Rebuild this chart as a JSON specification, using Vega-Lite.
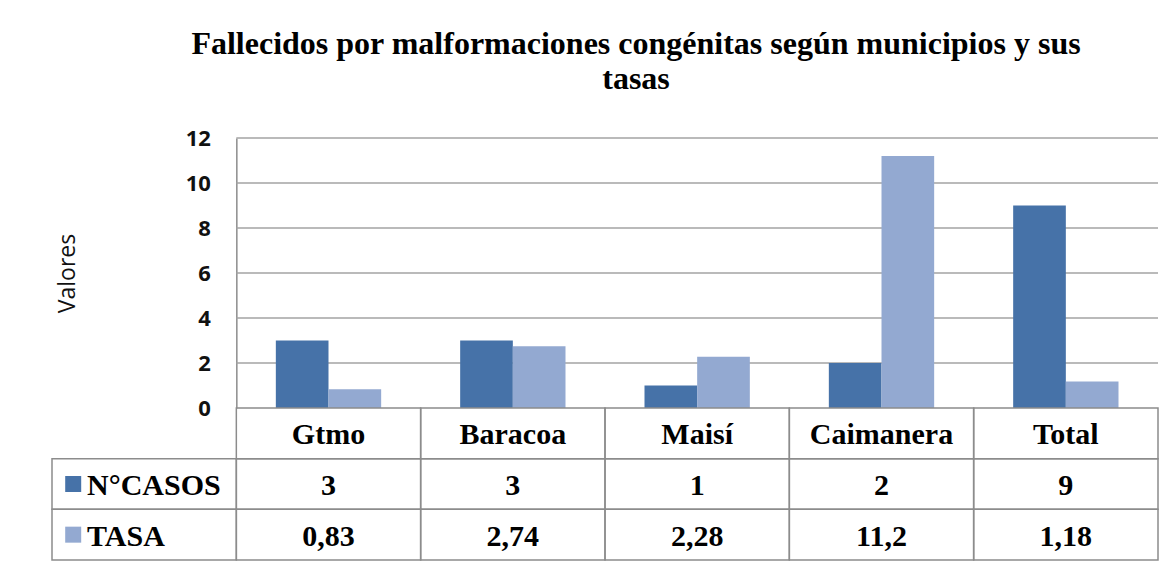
{
  "$schema": "https://vega.github.io/schema/vega-lite/v6.json",
  "width": 1106,
  "height": 423,
  "autosize": "none",
  "padding": {"left": 52, "top": 138, "right": 13, "bottom": 6},
  "background": "white",
  "config": {
    "view": {"stroke": null},
    "locale": {"number": {"decimal": ",", "thousands": ".", "grouping": [3], "currency": ["", " €"]}}
  },
  "title": {
    "text": ["Fallecidos por malformaciones congénitas según municipios y sus", "tasas"],
    "anchor": "middle",
    "font": "Liberation Serif",
    "fontSize": 32,
    "fontWeight": "bold",
    "color": "#000000",
    "lineHeight": 35,
    "offset": 31,
    "dx": 31
  },
  "data": {
    "values": [
      {"municipio": "Gtmo", "serie": "N°CASOS", "valor": 3},
      {"municipio": "Gtmo", "serie": "TASA", "valor": 0.83},
      {"municipio": "Baracoa", "serie": "N°CASOS", "valor": 3},
      {"municipio": "Baracoa", "serie": "TASA", "valor": 2.74},
      {"municipio": "Maisí", "serie": "N°CASOS", "valor": 1},
      {"municipio": "Maisí", "serie": "TASA", "valor": 2.28},
      {"municipio": "Caimanera", "serie": "N°CASOS", "valor": 2},
      {"municipio": "Caimanera", "serie": "TASA", "valor": 11.2},
      {"municipio": "Total", "serie": "N°CASOS", "valor": 9},
      {"municipio": "Total", "serie": "TASA", "valor": 1.18}
    ]
  },
  "resolve": {"scale": {"y": "independent"}, "axis": {"y": "independent"}},
  "layer": [
    {
      "layer": [
        {
          "data": {"values": [{"v": 2}, {"v": 4}, {"v": 6}, {"v": 8}, {"v": 10}, {"v": 12}]},
          "mark": {"type": "rule", "color": "#a3a3a3", "strokeWidth": 1.5},
          "encoding": {
            "x": {"datum": "Gtmo", "type": "nominal", "bandPosition": 0, "axis": null},
            "x2": {"value": "width"},
            "y": {
              "field": "v", "type": "quantitative", "title": "Valores",
              "scale": {"domain": [0, 12], "range": [270, 0]},
              "axis": {
                "orient": "left", "offset": -184.33, "grid": false, "ticks": false,
                "domain": true, "domainColor": "#8c8c8c", "domainWidth": 1.5,
                "values": [0, 2, 4, 6, 8, 10, 12],
                "labelFont": "Open Sans", "labelFontWeight": "bold", "labelFontSize": 22,
                "labelColor": "#111111", "labelPadding": 26, "labelFlush": false, "labelOverlap": false,
                "title": "Valores", "titleFont": "Open Sans", "titleFontSize": 23,
                "titleFontWeight": "normal", "titleColor": "#111111", "titlePadding": 106
              }
            }
          }
        },
        {
          "mark": {"type": "bar"},
          "encoding": {
            "x": {
              "field": "municipio", "type": "nominal", "axis": null,
              "scale": {"domain": ["Serie", "Gtmo", "Baracoa", "Maisí", "Caimanera", "Total"], "paddingInner": 0, "paddingOuter": 0}
            },
            "xOffset": {
              "field": "serie", "type": "nominal",
              "scale": {"domain": ["N°CASOS", "TASA"], "paddingInner": 0, "paddingOuter": 0.75}
            },
            "y": {"field": "valor", "type": "quantitative", "title": "Valores"},
            "color": {
              "field": "serie", "type": "nominal", "legend": null,
              "scale": {"domain": ["N°CASOS", "TASA"], "range": ["#4672a8", "#93a9d1"]}
            }
          }
        }
      ]
    },
    {
      "layer": [
        {
          "transform": [{"filter": "datum.serie === 'N°CASOS'"}],
          "mark": {"type": "rect", "fill": "white", "fillOpacity": 0, "stroke": "#8c8c8c", "strokeWidth": 1.5},
          "encoding": {
            "x": {"field": "municipio", "type": "nominal", "axis": null},
            "y": {
              "datum": "Municipio", "type": "nominal", "axis": null,
              "scale": {"domain": ["Municipio", "N°CASOS", "TASA"], "range": [270, 422], "paddingInner": 0, "paddingOuter": 0}
            }
          }
        },
        {
          "mark": {"type": "rect", "fill": "white", "fillOpacity": 0, "stroke": "#8c8c8c", "strokeWidth": 1.5},
          "encoding": {
            "x": {"field": "municipio", "type": "nominal", "axis": null},
            "y": {"field": "serie", "type": "nominal", "axis": null}
          }
        },
        {
          "transform": [{"filter": "datum.municipio === 'Gtmo'"}],
          "mark": {"type": "rect", "fill": "white", "fillOpacity": 0, "stroke": "#8c8c8c", "strokeWidth": 1.5},
          "encoding": {
            "x": {"datum": "Serie", "type": "nominal", "axis": null},
            "y": {"field": "serie", "type": "nominal", "axis": null}
          }
        },
        {
          "transform": [{"filter": "datum.serie === 'N°CASOS'"}],
          "mark": {"type": "text", "font": "Liberation Serif", "fontSize": 30, "fontWeight": "bold", "color": "#000000", "baseline": "middle", "dy": 2},
          "encoding": {
            "x": {"field": "municipio", "type": "nominal", "axis": null},
            "y": {"datum": "Municipio", "type": "nominal", "axis": null},
            "text": {"field": "municipio", "type": "nominal"}
          }
        },
        {
          "mark": {"type": "text", "font": "Liberation Serif", "fontSize": 30, "fontWeight": "bold", "color": "#000000", "baseline": "middle", "dy": 2},
          "encoding": {
            "x": {"field": "municipio", "type": "nominal", "axis": null},
            "y": {"field": "serie", "type": "nominal", "axis": null},
            "text": {"field": "valor", "type": "quantitative", "format": "~r"}
          }
        },
        {
          "transform": [{"filter": "datum.municipio === 'Gtmo'"}],
          "mark": {"type": "text", "font": "Liberation Serif", "fontSize": 30, "fontWeight": "bold", "color": "#000000", "baseline": "middle", "align": "left", "dy": 2},
          "encoding": {
            "x": {"datum": "Serie", "type": "nominal", "bandPosition": 0.19, "axis": null},
            "y": {"field": "serie", "type": "nominal", "axis": null},
            "text": {"field": "serie", "type": "nominal"}
          }
        },
        {
          "transform": [{"filter": "datum.municipio === 'Gtmo'"}],
          "mark": {"type": "point", "shape": "square", "filled": true, "opacity": 1, "size": 256},
          "encoding": {
            "x": {"datum": "Serie", "type": "nominal", "bandPosition": 0.115, "axis": null},
            "y": {"field": "serie", "type": "nominal", "axis": null},
            "color": {"field": "serie", "type": "nominal", "legend": null}
          }
        }
      ]
    }
  ]
}
